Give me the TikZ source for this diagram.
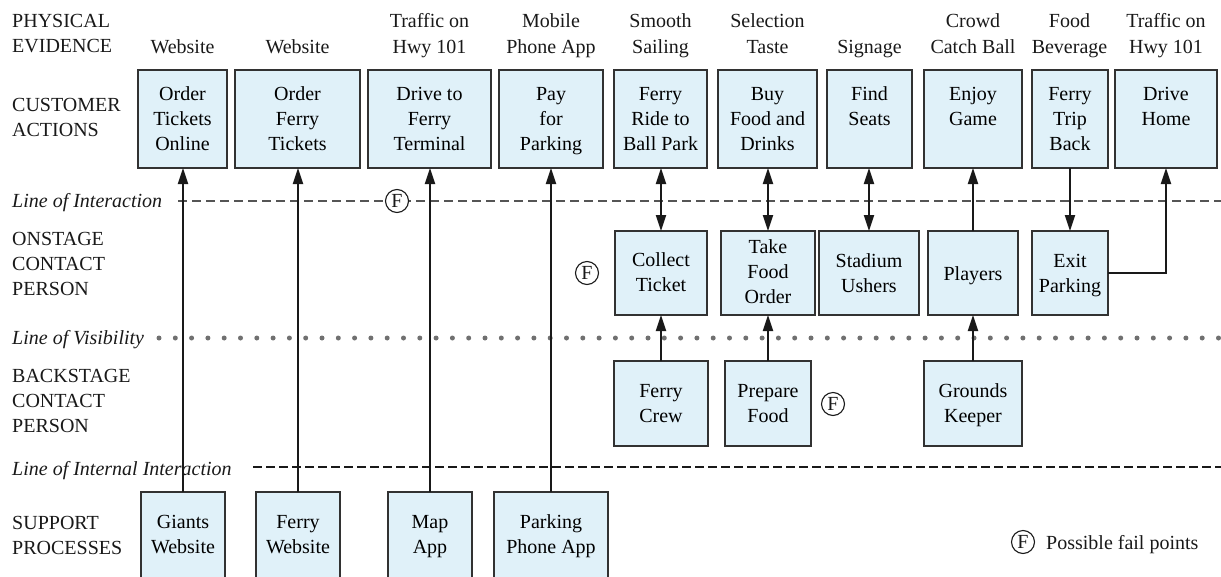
\documentclass[tikz,border=0pt]{standalone}
\usepackage{fontspec}
\setmainfont{Liberation Serif}
\usetikzlibrary{arrows.meta}

\definecolor{boxfill}{RGB}{224,241,249}
\definecolor{boxline}{RGB}{50,50,50}
\definecolor{ink}{RGB}{25,25,25}
\definecolor{dashgray}{RGB}{85,85,85}
\definecolor{dotgray}{RGB}{112,112,112}

% box contents: height, width, offset of first baseline from the top, text
\newcommand{\celltext}[4]{\parbox[c][#1pt][t]{#2pt}{\centering\rule{0pt}{#3pt}#4\par}}
% stacked lines aligned on the first baseline
\newcommand{\stacklines}[2][c]{\begin{tabular}[t]{@{}#1@{}}#2\end{tabular}}
% one blueprint box: name, left, top, width, height, baseline offset, text
\newcommand{\actbox}[7]{\node[actbox, anchor=north west] (#1) at (#2,#3) {\celltext{#5}{#4}{#6}{#7}};}

\begin{document}
\begin{tikzpicture}[x=1pt,y=-1pt,
  font=\fontsize{20}{25}\selectfont,
  actbox/.style={draw=boxline, fill=boxfill, line width=1.4pt, inner sep=0pt, outer sep=0pt},
  lbl/.style={inner sep=0pt, text=ink},
  pelabel/.style={lbl, anchor=base, font=\fontsize{20}{26}\selectfont},
  lanelabel/.style={lbl, anchor=base west},
  linelabel/.style={lbl, anchor=base west, font=\fontsize{20}{25}\selectfont\itshape},
  tip/.style={Triangle[length=16pt,width=10pt]},
  flow/.style={draw=ink, line width=2pt, -{Triangle[length=16pt,width=10pt]}},
  flowboth/.style={draw=ink, line width=2pt, {Triangle[length=16pt,width=10pt]}-{Triangle[length=16pt,width=10pt]}},
  failpt/.style={circle, draw=ink, fill=white, line width=1.1pt, minimum size=23pt, inner sep=0pt, text=ink, font=\fontsize{20}{22}\selectfont},
]
\useasboundingbox (0,0) rectangle (1221,576);
\clip (0,0) rectangle (1221,576);

% lane labels
\node[lanelabel] (lpe) at (12,27)  {\stacklines[l]{PHYSICAL\\EVIDENCE}};
\node[lanelabel] (lca) at (12,111) {\stacklines[l]{CUSTOMER\\ACTIONS}};
\node[lanelabel] (lon) at (12,245) {\stacklines[l]{ONSTAGE\\CONTACT\\PERSON}};
\node[lanelabel] (lbk) at (12,382) {\stacklines[l]{BACKSTAGE\\CONTACT\\PERSON}};
\node[lanelabel] (lsp) at (12,529) {\stacklines[l]{SUPPORT\\PROCESSES}};

% separating lines
\node[linelabel] (lint) at (12,207) {Line of Interaction};
\node[linelabel] (lvis) at (12,344) {Line of Visibility};
\node[linelabel] (lins) at (12,475) {Line of Internal Interaction};
\draw[dashgray, line width=1.3pt, dash pattern=on 9pt off 5pt] (178,201) -- (1221,201);
\draw[dotgray, line width=5pt, line cap=round, dash pattern=on 0pt off 16.3pt] (159,338) -- (1221,338);
\draw[ink, line width=2pt, dash pattern=on 9pt off 4pt] (253,467) -- (1221,467);

% physical evidence
\node[pelabel] (pe1)  at (182.5,53) {Website};
\node[pelabel] (pe2)  at (297.5,53) {Website};
\node[pelabel] (pe3)  at (429.5,27) {\stacklines{Traffic on\\Hwy 101}};
\node[pelabel] (pe4)  at (551,27)   {\stacklines{Mobile\\Phone App}};
\node[pelabel] (pe5)  at (660.5,27) {\stacklines{Smooth\\Sailing}};
\node[pelabel] (pe6)  at (767.5,27) {\stacklines{Selection\\Taste}};
\node[pelabel] (pe7)  at (869.5,53) {Signage};
\node[pelabel] (pe8)  at (973,27)   {\stacklines{Crowd\\Catch Ball}};
\node[pelabel] (pe9)  at (1069.5,27){\stacklines{Food\\Beverage}};
\node[pelabel] (pe10) at (1166,27)  {\stacklines{Traffic on\\Hwy 101}};

% customer actions
\actbox{c1}{138}{70}{89}{98}{30}{Order\\Tickets\\Online}
\actbox{c2}{235}{70}{125}{98}{30}{Order\\Ferry\\Tickets}
\actbox{c3}{368}{70}{123}{98}{30}{Drive to\\Ferry\\Terminal}
\actbox{c4}{499}{70}{104}{98}{30}{Pay\\for\\Parking}
\actbox{c5}{614}{70}{93}{98}{30}{Ferry\\Ride to\\Ball Park}
\actbox{c6}{718}{70}{99}{98}{30}{Buy\\Food and\\Drinks}
\actbox{c7}{827}{70}{85}{98}{30}{Find\\Seats}
\actbox{c8}{924}{70}{98}{98}{30}{Enjoy\\Game}
\actbox{c9}{1032}{70}{76}{98}{30}{Ferry\\Trip\\Back}
\actbox{c10}{1115}{70}{102}{98}{30}{Drive\\Home}

% onstage contact persons
\actbox{o1}{615}{231}{92}{84}{35}{Collect\\Ticket}
\actbox{o2}{721}{231}{94}{84}{22}{Take\\Food\\Order}
\actbox{o3}{819}{231}{100}{84}{36}{Stadium\\Ushers}
\actbox{o4}{928}{231}{90}{84}{49}{Players}
\actbox{o5}{1032}{231}{76}{84}{36}{Exit\\Parking}

% backstage contact persons
\actbox{b1}{614}{361}{94}{85}{36}{Ferry\\Crew}
\actbox{b2}{725}{361}{86}{85}{36}{Prepare\\Food}
\actbox{b3}{924}{361}{98}{85}{36}{Grounds\\Keeper}

% support processes
\actbox{s1}{141}{492}{84}{100}{36}{Giants\\Website}
\actbox{s2}{256}{492}{84}{100}{36}{Ferry\\Website}
\actbox{s3}{388}{492}{84}{100}{36}{Map\\App}
\actbox{s4}{494}{492}{114}{100}{36}{Parking\\Phone App}

% flows
\draw[flow] (s1.north) -- (s1.north |- c1.south);
\draw[flow] (s2.north) -- (s2.north |- c2.south);
\draw[flow] (s3.north) -- (s3.north |- c3.south);
\draw[flow] (s4.north) -- (s4.north |- c4.south);
\draw[flowboth] (o1.north) -- (o1.north |- c5.south);
\draw[flowboth] (o2.north) -- (o2.north |- c6.south);
\draw[flowboth] (o3.north) -- (o3.north |- c7.south);
\draw[flow] (o4.north) -- (o4.north |- c8.south);
\draw[flow] (c9.south) -- (c9.south |- o5.north);
\draw[flow] (o5.east) -| (c10.south);
\draw[flow] (b1.north) -- (b1.north |- o1.south);
\draw[flow] (b2.north) -- (b2.north |- o2.south);
\draw[flow] (b3.north) -- (b3.north |- o4.south);

% fail points
\node[failpt] (f1) at (397,201) {F};
\node[failpt] (f2) at (587,273) {F};
\node[failpt] (f3) at (833,404) {F};
\node[failpt] (f4) at (1023,542) {F};
\node[lbl, anchor=base west] (legend) at (1046,549) {Possible fail points};
\end{tikzpicture}
\end{document}
